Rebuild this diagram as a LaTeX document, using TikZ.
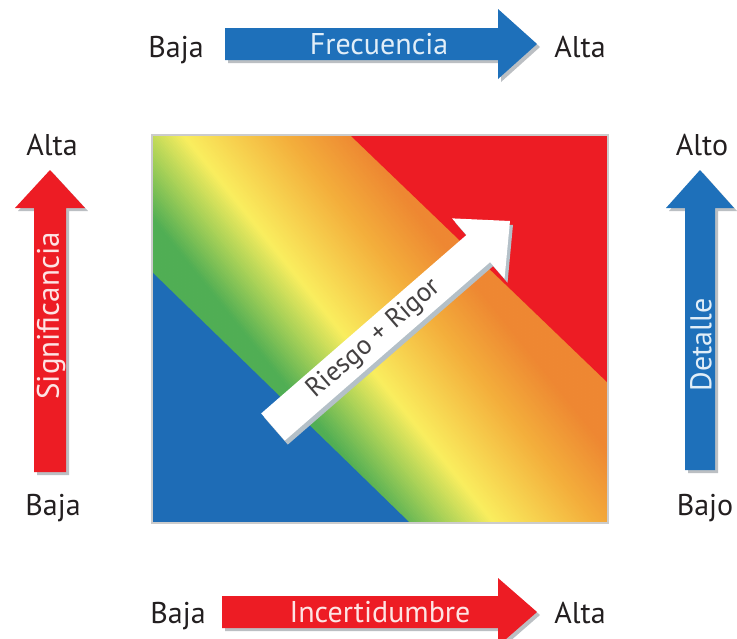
\documentclass[tikz,border=0pt]{standalone}
\usepackage{fontspec}
\setmainfont{PT Sans}
\definecolor{myblue}{RGB}{30,112,186}
\definecolor{myred}{RGB}{237,28,36}
\definecolor{sqblue}{RGB}{30,108,182}
\definecolor{txt}{RGB}{35,31,32}
\definecolor{shadowc}{RGB}{170,175,180}
\definecolor{wshadow}{RGB}{180,192,200}
\definecolor{bluetxt}{RGB}{225,238,248}
\definecolor{redtxt}{RGB}{253,228,228}
\newcommand{\HArrow}[7]{%
  \fill[#7] (#1,{#4-#5}) -- (#2,{#4-#5}) -- (#2,{#4-#6}) -- (#3,#4) -- (#2,{#4+#6}) -- (#2,{#4+#5}) -- (#1,{#4+#5}) -- cycle;}
\newcommand{\VArrow}[7]{%
  \fill[#7] ({#4-#5},#1) -- ({#4-#5},#2) -- ({#4-#6},#2) -- (#4,#3) -- ({#4+#6},#2) -- ({#4+#5},#2) -- ({#4+#5},#1) -- cycle;}
\begin{document}
\begin{tikzpicture}[x=1pt,y=-1pt,
  lbl/.style={font=\fontsize{30}{34}\selectfont, text=txt, inner sep=0pt, anchor=base},
  intxt/.style={font=\fontsize{30}{34}\selectfont, inner sep=0pt},
  shadowfill/.style={fill=shadowc, opacity=0.8},
]
\useasboundingbox (0,0) rectangle (737,638);
\fill[white] (0,0) rectangle (737,638);

% ---------- gradient square ----------
\begin{scope}
\clip (152,135) rectangle (608,523);
\foreach \t in {-160,-157,...,460} {
  \pgfmathsetmacro{\fa}{min(max((\t+30)/65,0),1)}
  \pgfmathsetmacro{\fb}{min(max((\t-35)/58,0),1)}
  \pgfmathsetmacro{\fc}{min(max((\t-93)/127,0),1)}
  \pgfmathsetmacro{\fd}{min(max((\t-220)/90,0),1)}
  \pgfmathtruncatemacro{\Rv}{80+\fa*(170-80)+\fb*(250-170)+\fc*(244-250)+\fd*(238-244)}
  \pgfmathtruncatemacro{\Gv}{174+\fa*(210-174)+\fb*(238-210)+\fc*(175-238)+\fd*(135-175)}
  \pgfmathtruncatemacro{\Bv}{84+\fa*(88-84)+\fb*(95-88)+\fc*(60-95)+\fd*(50-60)}
  \definecolor{stripc}{RGB}{\Rv,\Gv,\Bv}
  \fill[stripc] (140,{1.25*140-\t}) -- (620,{1.25*620-\t}) -- (620,{1.25*620-\t-3.8}) -- (140,{1.25*140-\t-3.8}) -- cycle;
}
\end{scope}
\fill[sqblue] (152,272) -- (152,523) -- (410,523) -- cycle;
\fill[myred] (350,135) -- (608,135) -- (608,383) -- cycle;
\draw[gray!40, line width=2] (152,135) rectangle (608,523);

% ---------- white diagonal arrow ----------
\begin{scope}[shift={(276,431)}, rotate=41]
  \fill[wshadow] (0,-18) -- (272,-18) -- (272,-40) -- (314,0) -- (272,40) -- (272,18) -- (0,18) -- cycle;
\end{scope}
\begin{scope}[shift={(273,427)}, rotate=41]
  \fill[white] (0,-18) -- (272,-18) -- (272,-40) -- (314,0) -- (272,40) -- (272,18) -- (0,18) -- cycle;
  \node[rotate=41, font=\fontsize{27}{30}\selectfont, text=txt!85, inner sep=0pt] (riesgo) at (134,0) {Riesgo + Rigor};
\end{scope}

% ---------- top arrow ----------
\HArrow{225}{498}{537}{44}{16}{35}{shadowfill,shift={(3,3)}}
\HArrow{225}{498}{537}{44}{16}{35}{myblue}
\node[intxt, text=bluetxt] (frec) at (379,44) {Frecuencia};
\node[lbl] (bajaT) at (176,57) {Baja};
\node[lbl] (altaT) at (580,57) {Alta};

% ---------- bottom arrow ----------
\HArrow{222}{498}{537}{612}{16}{34}{shadowfill,shift={(3,3)}}
\HArrow{222}{498}{537}{612}{16}{34}{myred}
\node[intxt, text=redtxt] (incert) at (380,612) {Incertidumbre};
\node[lbl] (bajaB) at (178,623) {Baja};
\node[lbl] (altaB) at (580,623) {Alta};

% ---------- left arrow ----------
\VArrow{472}{208}{170}{50}{16}{35}{shadowfill,shift={(3,3)}}
\VArrow{472}{208}{170}{50}{16}{35}{myred}
\node[font=\fontsize{31}{34}\selectfont, inner sep=0pt, rotate=90, text=redtxt] (signif) at (51,316) {Significancia};
\node[lbl] (altaL) at (52,155) {Alta};
\node[lbl] (bajaL) at (53,515) {Baja};

% ---------- right arrow ----------
\VArrow{470}{208}{170}{700}{15}{34}{shadowfill,shift={(3,3)}}
\VArrow{470}{208}{170}{700}{15}{34}{myblue}
\node[intxt, rotate=90, text=bluetxt] (detalle) at (701,345) {Detalle};
\node[lbl] (altoR) at (702,155) {Alto};
\node[lbl] (bajoR) at (705,515) {Bajo};
\end{tikzpicture}
\end{document}
